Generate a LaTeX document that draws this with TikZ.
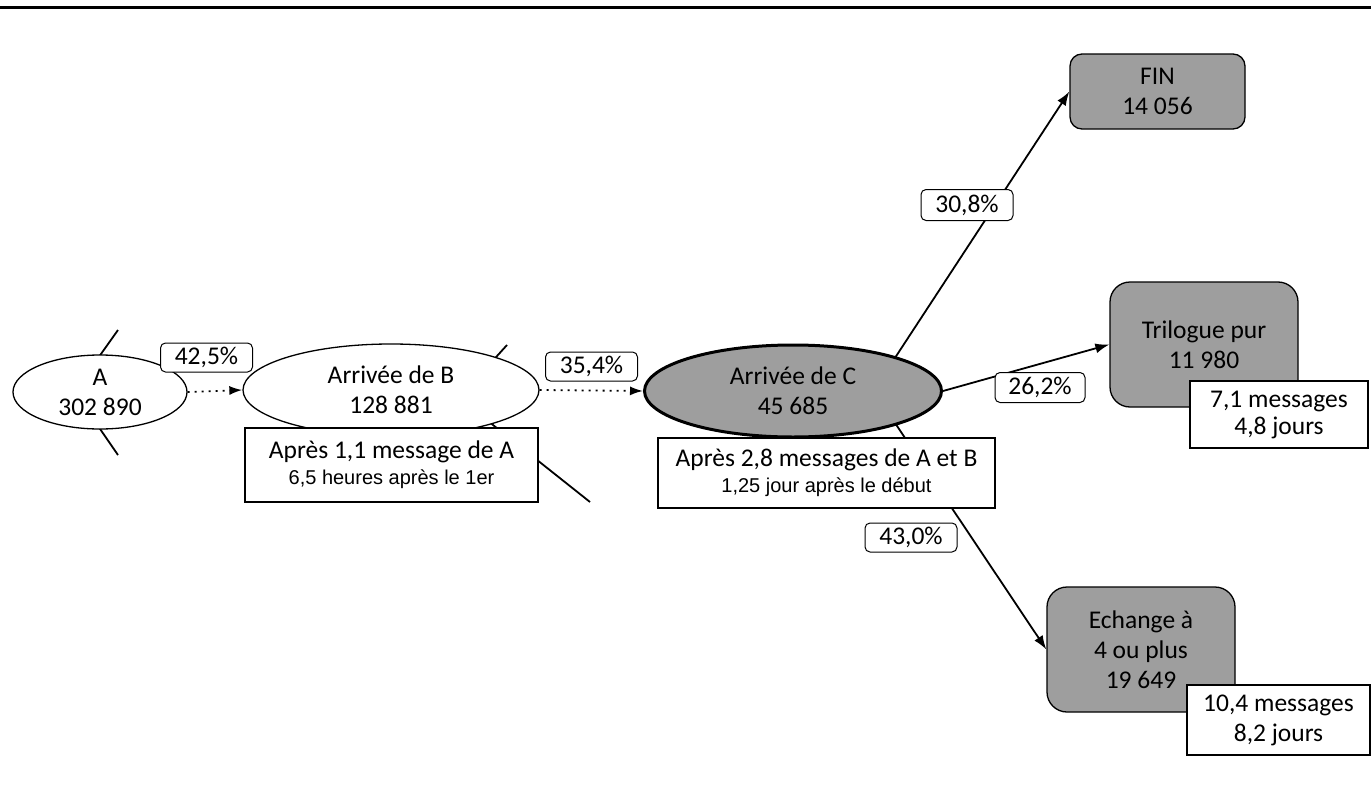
\documentclass[tikz,border=0pt]{standalone}
\usepackage{fontspec}
\newfontfamily\calib{Carlito}
\newfontfamily\arial{Liberation Sans}
\newcommand\arialsmall{\arial\fontsize{20}{24}\selectfont}
\usetikzlibrary{shapes.geometric,arrows.meta,backgrounds}
\definecolor{boxgray}{RGB}{158,158,158}
\tikzset{
  big/.style={font=\calib\fontsize{25.5}{30}\selectfont},
  ell/.style={ellipse, draw, line width=1.3pt, fill=white, inner sep=0pt, align=center, big},
  rectbox/.style={draw, line width=1.3pt, fill=white, inner sep=0pt, align=center, big},
  pct/.style={draw, line width=1pt, rounded corners=5pt, fill=white, inner sep=0pt,
              minimum width=92pt, minimum height=29pt, big},
  graybox/.style={draw, line width=1.3pt, fill=boxgray, rounded corners=20pt, inner sep=0pt,
                  align=center, big, minimum width=188pt, minimum height=125pt},
  conn/.style={line width=1.8pt, -{Latex[length=14pt,width=10pt]}},
  dotconn/.style={line width=1.8pt, dash pattern=on 2pt off 5pt, -{Latex[length=13pt,width=9pt]}},
  stick/.style={line width=1.8pt},
}
\begin{document}
\begin{tikzpicture}[x=1pt,y=-1pt]
\useasboundingbox (0,0) rectangle (1371,787);
\draw[line width=3pt] (0,7) -- (1371,7);

% ellipses
\node[ell, minimum width=174pt, minimum height=74pt] (A) at (100,392) {A\\302 890};
\node[ell, minimum width=296pt, minimum height=92pt] (B) at (391,390) {Arrivée de B\\128 881};
\node[ell, minimum width=297pt, minimum height=92pt, fill=boxgray, line width=3pt] (C) at (793,391) {Arrivée de C\\45 685};

% info rectangles
\node[rectbox, minimum width=293pt, minimum height=74pt] (Binfo) at (391.5,465)
  {Après 1,1 message de A\\[-4pt]{\arialsmall 6,5 heures après le 1er}};
\node[rectbox, minimum width=337pt, minimum height=70pt] (Cinfo) at (826.5,473)
  {Après 2,8 messages de A et B\\[-4pt]{\arialsmall 1,25 jour après le début}};

% outcome boxes
\node[graybox, minimum width=175pt, minimum height=75pt, rounded corners=12pt] (FIN) at (1157.5,91.5) {FIN\\14 056};
\node[graybox] (Tri) at (1204,344.5) {Trilogue pur\\11 980};
\node[graybox] (Ech) at (1141,649.5) {Echange à\\4 ou plus\\19 649};
\node[rectbox, minimum width=178pt, minimum height=67pt] (Triinfo) at (1279,414.5) {7,1 messages\\[-3pt]4,8 jours};
\node[rectbox, minimum width=183pt, minimum height=70pt] (Echinfo) at (1278.5,720) {10,4 messages\\8,2 jours};

% free ends
\coordinate (As1) at (96,361);  \coordinate (As2) at (118,330);
\coordinate (As3) at (98,426);  \coordinate (As4) at (118,455);
\coordinate (Bs1) at (488,366); \coordinate (Bs2) at (507,345);
\coordinate (Bs3) at (488,421); \coordinate (Bs4) at (590,502);
\coordinate (Cfin) at (880.5,380);
\coordinate (Cech) at (885,408);

\begin{pgfonlayer}{background}
  \draw[stick] (As1) -- (As2);
  \draw[stick] (As3) -- (As4);
  \draw[stick] (Bs1) -- (Bs2);
  \draw[stick] (Bs3) -- (Bs4);
  \draw[conn] (Cfin) -- (FIN.west);
  \draw[conn] (C.east) -- (Tri.west);
  \draw[conn] (Cech) -- (Ech.west);
\end{pgfonlayer}

\draw[dotconn] (A.east) -- (B.west);
\draw[dotconn] (B.east) -- (C.west);

% percentage labels
\node[pct] (p1) at (206.5,357.5) {42,5\%};
\node[pct] (p2) at (591.5,366.5) {35,4\%};
\node[pct, minimum height=31pt] (p3) at (967,205) {30,8\%};
\node[pct, minimum width=90pt, minimum height=30pt] (p4) at (1040,387.5) {26,2\%};
\node[pct] (p5) at (911,537.5) {43,0\%};
\end{tikzpicture}
\end{document}
